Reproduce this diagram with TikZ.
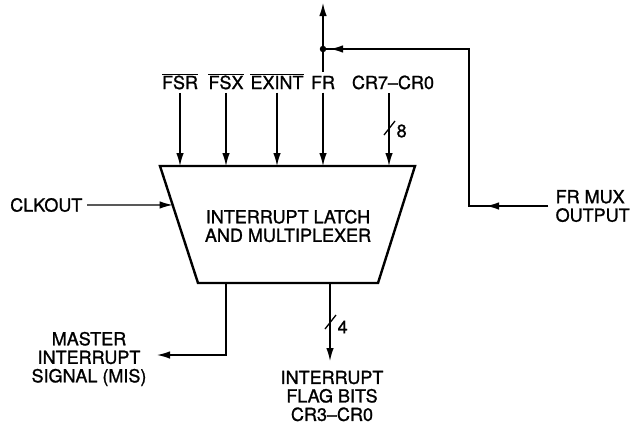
\documentclass[tikz,border=0pt]{standalone}
\usepackage{fontspec}
\setmainfont{TeX Gyre Heros}[FakeBold=1.2]
\usetikzlibrary{arrows.meta,calc}
\newcommand{\ovl}[1]{\ensuremath{\overline{\mbox{#1}}}}
\begin{document}
\begin{tikzpicture}[x=1pt,y=-1pt,line width=1.3pt,
  >={Latex[length=13pt,width=7.5pt]},
  lbl/.style={inner sep=0pt,font=\fontsize{18}{18.5}\selectfont},
  box/.style={line width=2.4pt,line join=miter},
  dotnode/.style={circle,fill,inner sep=0pt,minimum size=6.5pt}]
\useasboundingbox (0,0) rectangle (632,426);
% block
\coordinate (TL) at (160,166);
\coordinate (TR) at (415,166);
\coordinate (BR) at (378,283);
\coordinate (BL) at (198,283);
\draw[box] (TL) -- (TR) -- (BR) -- (BL) -- cycle;
\node[lbl,align=center] (mux) at (288,226) {INTERRUPT LATCH\\AND MULTIPLEXER};
% top labels
\node[lbl,anchor=base,inner sep=3pt] (fsr) at (180,89) {\ovl{FSR}};
\node[lbl,anchor=base,inner sep=3pt] (fsx) at (226,89) {\ovl{FSX}};
\node[lbl,anchor=base,inner sep=3pt] (exint) at (277,89) {\ovl{EXINT}};
\node[lbl,anchor=base,inner sep=3pt] (fr) at (323,89) {FR};
\node[lbl,anchor=base,inner sep=3pt] (cr) at (393,89) {CR7--CR0};
\coordinate (crs) at (389,93);
\draw[->] (fsr.south) -- (fsr.south |- TL);
\draw[->] (fsx.south) -- (fsx.south |- TL);
\draw[->] (exint.south) -- (exint.south |- TL);
\draw[->] (fr.south) -- (fr.south |- TL);
\draw[->] (crs) -- (crs |- TL);
\draw (384,135) -- (395,121);
\node[lbl,anchor=west] (eight) at (396,131) {8};
% FR output and feedback
\node[dotnode] (dot) at (323,49) {};
\coordinate (frout) at (323,3);
\draw[->] (dot.center) -- (frout);
\draw (dot.center) -- (fr.north);
\node[lbl,align=left,anchor=west] (frmux) at (555,206) {FR MUX\\OUTPUT};
\coordinate (fm0) at (548,206);
\coordinate (fm1) at (486,206);
\coordinate (c1) at (469,206);
\coordinate (c2) at (469,49);
\draw (fm0) -- (c1) -- (c2) -- (dot.center);
\draw[->] (fm0) -- (fm1);
\draw[->] (c2) -- ([xshift=7pt]dot.center);
% CLKOUT
\node[lbl,anchor=east] (clk) at (83,205) {CLKOUT};
\coordinate (clkin) at ($(TL)!0.333!(BL)$);
\draw[->] ([xshift=4pt]clk.east) -- (clkin);
% MIS
\coordinate (b1) at (226,283);
\node[lbl,align=center] (mis) at (89,359) {MASTER\\INTERRUPT\\SIGNAL (MIS)};
\coordinate (misend) at (157,355);
\draw[->] (b1) |- (misend);
% flag bits
\coordinate (b2) at (330,283);
\node[lbl,align=center] (flag) at (332,396) {INTERRUPT\\FLAG BITS\\CR3--CR0};
\coordinate (flagend) at (330,361);
\draw[->] (b2) -- (flagend);
\draw (325,329) -- (336,315);
\node[lbl,anchor=west] (four) at (337,327) {4};
\end{tikzpicture}
\end{document}
